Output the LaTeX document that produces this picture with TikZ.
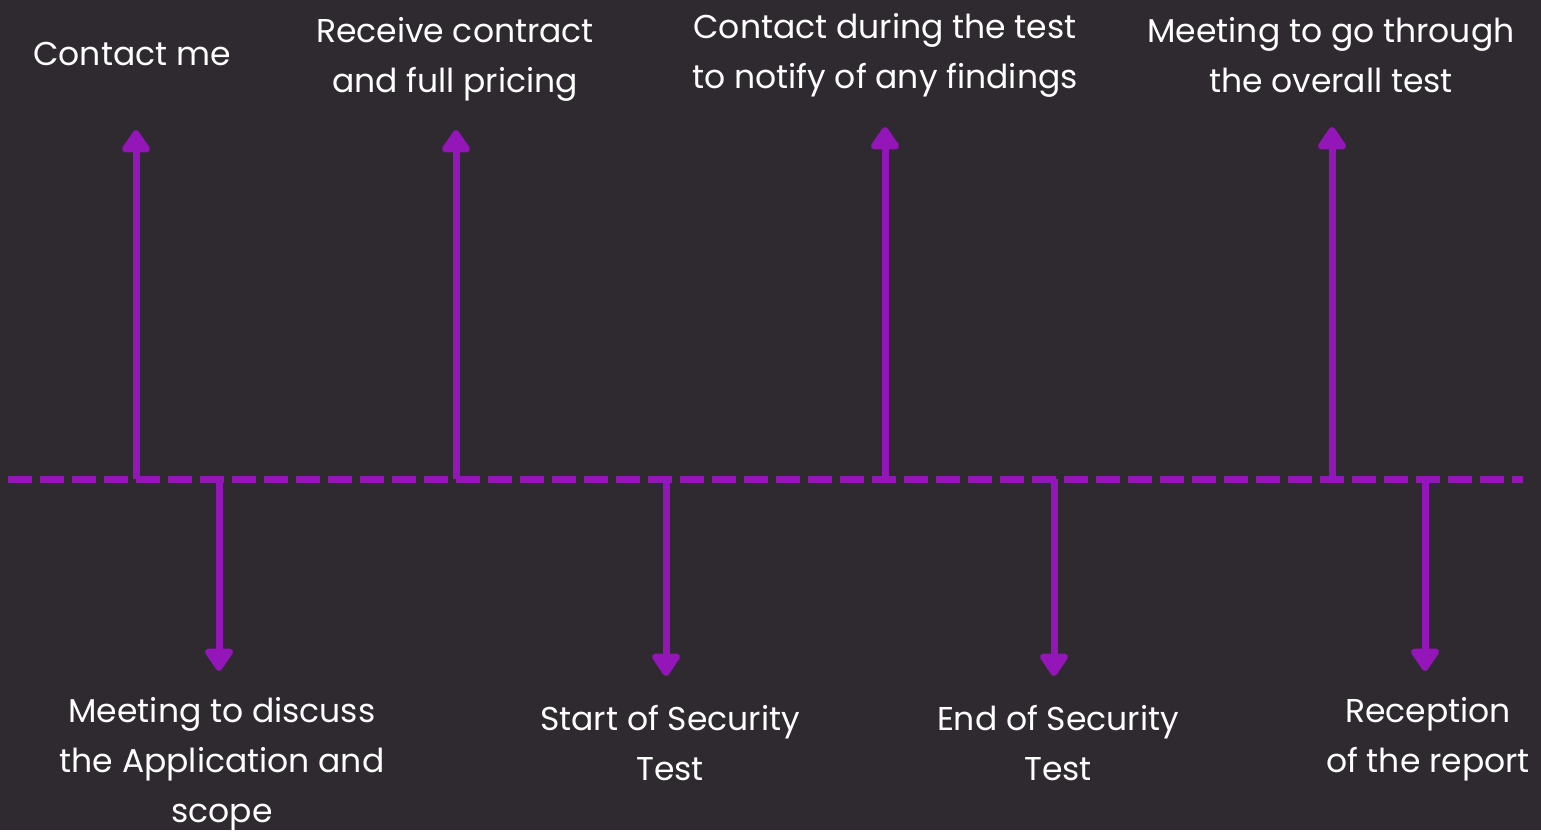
\documentclass[tikz,border=0pt]{standalone}
\usepackage{fontspec}
\setmainfont{Poppins}
\usetikzlibrary{arrows.meta}
\definecolor{bgdark}{HTML}{2F2A2F}
\definecolor{tlpurple}{HTML}{9416B8}

\begin{document}
\begin{tikzpicture}[x=1pt, y=-1pt,
    lbl/.style={text=white, align=center, font=\fontsize{33}{50}\selectfont},
    stem/.style={draw=tlpurple, line width=7pt, -{Triangle[round, length=25pt, width=32pt]}}]
    \fill[bgdark] (0, 0) rectangle (1541, 830);
    % timeline
    \coordinate (start) at (8, 479);
    \coordinate (stop) at (1523, 479);
    \draw[tlpurple, line width=7pt, dash pattern=on 24pt off 8pt] (start) -- (stop);
    % steps above the line
    \node[lbl] (contact) at (132, 54) {Contact me};
    \node[lbl] (contract) at (455, 59) {Receive contract\\and full pricing};
    \node[lbl] (during) at (885, 55) {Contact during the test\\to notify of any findings};
    \node[lbl] (overall) at (1331, 55) {Meeting to go through\\the overall test};
    \coordinate (a1) at (136, 479);  \coordinate (t1) at (136, 130);
    \coordinate (a2) at (456, 479);  \coordinate (t2) at (456, 130);
    \coordinate (a3) at (885, 479);  \coordinate (t3) at (885, 127);
    \coordinate (a4) at (1332, 479); \coordinate (t4) at (1332, 127);
    \draw[stem] (a1) -- (t1);
    \draw[stem] (a2) -- (t2);
    \draw[stem] (a3) -- (t3);
    \draw[stem] (a4) -- (t4);
    % steps below the line
    \node[lbl] (discuss) at (222, 764) {Meeting to discuss\\the Application and\\scope};
    \node[lbl] (teststart) at (670, 743) {Start of Security\\Test};
    \node[lbl] (testend) at (1058, 743) {End of Security\\Test};
    \node[lbl] (report) at (1428, 739) {Reception\\of the report};
    \coordinate (b1) at (219, 479);  \coordinate (d1) at (219, 671);
    \coordinate (b2) at (666, 479);  \coordinate (d2) at (666, 676);
    \coordinate (b3) at (1054, 479); \coordinate (d3) at (1054, 676);
    \coordinate (b4) at (1425, 479); \coordinate (d4) at (1425, 671);
    \draw[stem] (b1) -- (d1);
    \draw[stem] (b2) -- (d2);
    \draw[stem] (b3) -- (d3);
    \draw[stem] (b4) -- (d4);
    \useasboundingbox (0, 0) rectangle (1541, 830);
\end{tikzpicture}
\end{document}
